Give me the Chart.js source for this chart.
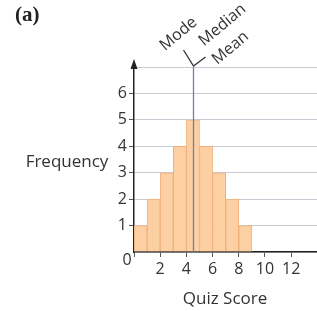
<!DOCTYPE html>
<html>
<head>
<meta charset="utf-8">
<script src="https://cdn.jsdelivr.net/npm/chart.js@4.4.1/dist/chart.umd.min.js"></script>
<style>
  html, body { margin: 0; padding: 0; background: #fff; }
  #grafico { display: block; }
</style>
</head>
<body>
<canvas id="grafico" width="317" height="311"></canvas>
<script>
// datos del histograma (centro de cada barra y su frecuencia)
const puntajes = [0.5, 1.5, 2.5, 3.5, 4.5, 5.5, 6.5, 7.5, 8.5];
const frecuencias = [1, 2, 3, 4, 5, 4, 3, 2, 1];
const marcasX = [2, 4, 6, 8, 10, 12];
const marcasY = [1, 2, 3, 4, 5, 6];
const media = 4.5; // moda = mediana = media
const etiquetas = ["Mode", "Median", "Mean"];

const fuente = "'Open Sans', sans-serif";

const extras = {
  id: "extras",
  afterDraw(chart) {
    const ctx = chart.ctx;
    const xs = chart.scales.x;
    const ys = chart.scales.y;
    const area = chart.chartArea;
    ctx.save();

    // linea de la media
    const xm = Math.round(xs.getPixelForValue(media)) + 0.5;
    ctx.strokeStyle = "#6f7fa8";
    ctx.lineWidth = 1.3;
    ctx.beginPath();
    ctx.moveTo(xm, ys.getPixelForValue(0));
    ctx.lineTo(xm, area.top);
    ctx.stroke();
    // la "V" de las etiquetas
    ctx.strokeStyle = "#333";
    ctx.lineWidth = 1.3;
    ctx.beginPath();
    ctx.moveTo(xm - 10, area.top - 17);
    ctx.lineTo(xm, area.top - 1);
    ctx.lineTo(xm + 12, area.top - 10);
    ctx.stroke();

    // etiquetas rotadas
    ctx.fillStyle = "#333";
    ctx.font = "16px " + fuente;
    ctx.textAlign = "center";
    ctx.textBaseline = "middle";
    const pos = [[xm - 15, area.top - 33], [xm + 29, area.top - 42], [xm + 37, area.top - 19]];
    etiquetas.forEach((t, i) => {
      ctx.save();
      ctx.translate(pos[i][0], pos[i][1]);
      ctx.rotate(-40 * Math.PI / 180);
      ctx.fillText(t, 0, 0);
      ctx.restore();
    });

    // flecha del eje y
    const xa = area.left;
    ctx.strokeStyle = "#222";
    ctx.lineWidth = 1.5;
    ctx.beginPath();
    ctx.moveTo(xa, area.top);
    ctx.lineTo(xa, area.top - 4);
    ctx.stroke();
    ctx.fillStyle = "#222";
    ctx.beginPath();
    ctx.moveTo(xa, area.top - 8);
    ctx.lineTo(xa - 3.5, area.top + 2);
    ctx.lineTo(xa + 3.5, area.top + 2);
    ctx.closePath();
    ctx.fill();

    // textos
    ctx.fillStyle = "#333";
    ctx.font = "16px " + fuente;
    ctx.textAlign = "center";
    ctx.fillText("0", 127, 260);
    ctx.font = "17px " + fuente;
    ctx.fillText("Frequency", 67, 162);
    ctx.fillText("Quiz Score", 225, 299);

    ctx.fillStyle = "#222";
    ctx.font = "bold 21px 'Liberation Serif', serif";
    ctx.textAlign = "left";
    ctx.fillText("(a)", 15, 16);
    ctx.restore();
  }
};

new Chart(document.getElementById("grafico").getContext("2d"), {
  type: "bar",
  data: {
    datasets: [{
      data: puntajes.map((x, i) => ({ x: x, y: frecuencias[i] })),
      backgroundColor: "#fcd0a3",
      borderColor: "#f0b078",
      borderWidth: 1,
      barPercentage: 1,
      categoryPercentage: 1
    }]
  },
  options: {
    responsive: false,
    animation: false,
    layout: { padding: { top: 67, right: 0, left: 0, bottom: 0 } },
    plugins: { legend: { display: false }, tooltip: { enabled: false } },
    scales: {
      x: {
        type: "linear",
        offset: false,
        min: 0,
        max: 13.97,
        afterFit: s => { s.height = 59; },
        afterBuildTicks: s => { s.ticks = [0].concat(marcasX).map(v => ({ value: v })); },
        ticks: {
          callback: v => (v === 0 ? "" : v),
          font: { size: 16, family: fuente },
          color: "#333",
          padding: 3,
          maxRotation: 0,
          autoSkip: false
        },
        grid: { offset: false, drawOnChartArea: false, drawTicks: true, tickLength: 5, tickColor: "#555" },
        border: { color: "#222", width: 1.5 }
      },
      y: {
        min: 0,
        max: 7,
        afterFit: s => { s.width = 134; },
        afterBuildTicks: s => { s.ticks = [0].concat(marcasY, [7]).map(v => ({ value: v })); },
        ticks: {
          callback: v => (marcasY.includes(v) ? v : ""),
          font: { size: 16, family: fuente },
          color: "#333",
          padding: 2
        },
        grid: {
          color: "#c9ccd4",
          lineWidth: 1,
          tickLength: 5,
          tickColor: c => (c.tick && marcasY.includes(c.tick.value) ? "#555" : "rgba(0,0,0,0)")
        },
        border: { color: "#222", width: 1.5 }
      }
    }
  },
  plugins: [extras]
});
</script>
</body>
</html>
